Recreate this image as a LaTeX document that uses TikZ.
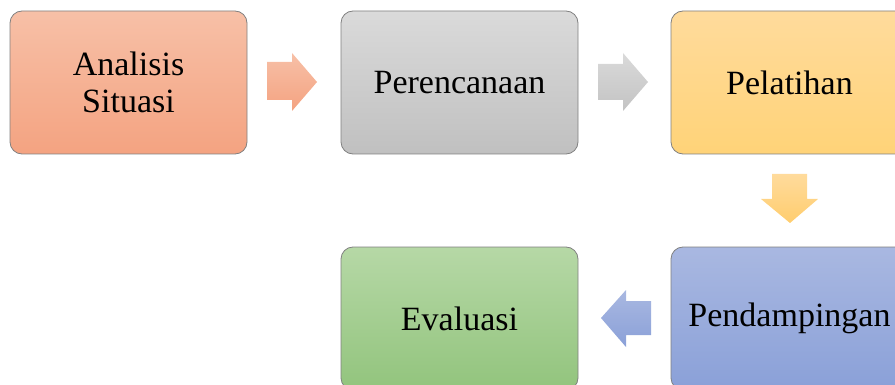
\documentclass[tikz,border=0pt]{standalone}
\usepackage{fontspec}
\setmainfont{Liberation Serif}
\begin{document}
\begin{tikzpicture}[x=1pt,y=-1pt,
  box/.style={draw=black!50, line width=0.8pt, rounded corners=12pt, minimum width=237pt, minimum height=143pt, inner sep=0pt, align=center, font=\fontsize{34}{37}\selectfont},
  barrow/.style={draw=none}
]
\useasboundingbox (0,0) rectangle (895,385);
\clip (0,0) rectangle (895,385);
\node[box, top color={rgb,255:red,247;green,192;blue,167}, bottom color={rgb,255:red,244;green,163;blue,129}] (ana) at (128.5,82.5) {Analisis\\Situasi};
\node[box, top color={rgb,255:red,218;green,218;blue,218}, bottom color={rgb,255:red,192;green,192;blue,192}] (ren) at (459.5,82.5) {Perencanaan};
\node[box, top color={rgb,255:red,255;green,219;blue,156}, bottom color={rgb,255:red,255;green,211;blue,120}] (pel) at (789.5,82.5) {Pelatihan};
\node[box, top color={rgb,255:red,169;green,184;blue,225}, bottom color={rgb,255:red,138;green,160;blue,216}] (pen) at (789.5,318.5) {Pendampingan};
\node[box, top color={rgb,255:red,182;green,216;blue,166}, bottom color={rgb,255:red,146;green,196;blue,125}] (eva) at (459.5,318.5) {Evaluasi};
% block arrows
\path[barrow, top color={rgb,255:red,247;green,192;blue,167}, bottom color={rgb,255:red,244;green,163;blue,129}]
  (267,62) -- (292,62) -- (292,53) -- (317,82) -- (292,111) -- (292,100) -- (267,100) -- cycle;
\path[barrow, top color={rgb,255:red,218;green,218;blue,218}, bottom color={rgb,255:red,195;green,195;blue,195}]
  (598,64) -- (623,64) -- (623,53) -- (648,82) -- (623,111) -- (623,100) -- (598,100) -- cycle;
\path[barrow, top color={rgb,255:red,255;green,219;blue,156}, bottom color={rgb,255:red,255;green,205;blue,110}]
  (772,174) -- (807,174) -- (807,199) -- (818,199) -- (790,223) -- (761,199) -- (772,199) -- cycle;
\path[barrow, top color={rgb,255:red,169;green,184;blue,225}, bottom color={rgb,255:red,138;green,160;blue,216}]
  (651,301) -- (626,301) -- (626,290) -- (601,318) -- (626,347) -- (626,335) -- (651,335) -- cycle;
\end{tikzpicture}
\end{document}
